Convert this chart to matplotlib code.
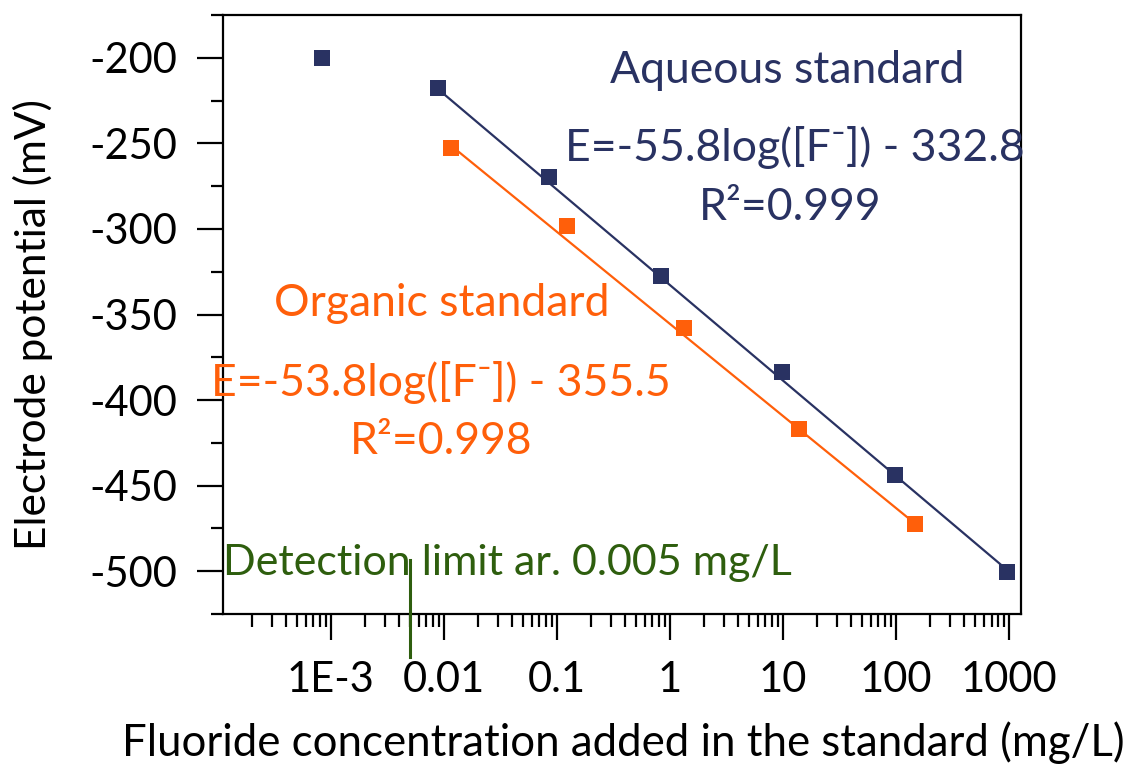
import matplotlib
matplotlib.use('Agg')
import matplotlib.pyplot as plt
import matplotlib.ticker as mticker
import matplotlib.transforms as mtransforms
import numpy as np

plt.rcParams['font.family'] = ['Lato', 'DejaVu Sans']
plt.rcParams['axes.unicode_minus'] = False

# 数据
aq_conc = [0.00083, 0.0089, 0.085, 0.83, 9.8, 98, 960]
aq_pot = [-200, -217.5, -269.5, -327.5, -383.5, -443.5, -500.5]
org_conc = [0.0115, 0.122, 1.33, 13.8, 147]
org_pot = [-253, -298.5, -358, -417, -472.5]

# 拟合方程系数（图中标注）
aq_slope, aq_intercept = -55.8, -332.8
org_slope, org_intercept = -53.8, -355.5

xtick_vals = [1e-3, 1e-2, 1e-1, 1, 10, 100, 1000]
xtick_labels = ['1E-3', '0.01', '0.1', '1', '10', '100', '1000']
detection_limit = 0.005

navy = '#293262'
orange = '#ff5f0a'
green = '#2e5e0e'

fig = plt.figure(figsize=(11.27, 7.65), dpi=100)
ax = fig.add_axes([222.7 / 1127, 1 - 614 / 765, (1021 - 222.7) / 1127, (614 - 15) / 765])

# 拟合直线（第一个水相点不参与拟合）
x_aq = np.array([aq_conc[1], aq_conc[-1]])
ax.plot(x_aq, aq_slope * np.log10(x_aq) + aq_intercept, color=navy, lw=1.6, zorder=2)
x_org = np.array([org_conc[0], org_conc[-1]])
ax.plot(x_org, org_slope * np.log10(x_org) + org_intercept, color=orange, lw=1.6, zorder=2)

ax.plot(aq_conc, aq_pot, 's', color=navy, ms=11.5, mew=0, zorder=3)
ax.plot(org_conc, org_pot, 's', color=orange, ms=11.5, mew=0, zorder=3)

ax.set_xscale('log')
ax.set_xlim(10 ** -3.957, 10 ** 3.106)
ax.set_ylim(-525, -175)

ax.xaxis.set_major_locator(mticker.FixedLocator(xtick_vals))
ax.xaxis.set_major_formatter(mticker.FixedFormatter(xtick_labels))
ax.xaxis.set_minor_locator(mticker.LogLocator(base=10, subs=np.arange(2, 10), numticks=20))
ax.xaxis.set_minor_formatter(mticker.NullFormatter())
ax.yaxis.set_major_locator(mticker.MultipleLocator(50))
ax.yaxis.set_minor_locator(mticker.MultipleLocator(25))
ax.yaxis.set_major_formatter(mticker.FuncFormatter(lambda v, p: '%d' % v))

ax.tick_params(which='both', direction='out', width=1.6, colors='black')
ax.tick_params(which='major', length=18.5, labelsize=30)
ax.tick_params(axis='x', which='major', pad=15)
ax.tick_params(axis='y', which='major', pad=14)
ax.tick_params(which='minor', length=9)
ax.tick_params(top=False, right=False)
for s in ax.spines.values():
    s.set_linewidth(1.6)

# 文字标注
ax.text(10.8, -207.5, 'Aqueous standard', color=navy, fontsize=32, ha='center', va='center')
ax.text(12.7, -252.6, 'E=-55.8log([F\u207b]) - 332.8', color=navy, fontsize=32, ha='center', va='center')
ax.text(11.5, -287.3, 'R\u00b2=0.999', color=navy, fontsize=32, ha='center', va='center')
ax.text(0.0095, -343.4, 'Organic standard', color=orange, fontsize=32, ha='center', va='center')
ax.text(0.0095, -389.6, 'E=-53.8log([F\u207b]) - 355.5', color=orange, fontsize=32, ha='center', va='center')
ax.text(0.0095, -424.3, 'R\u00b2=0.998', color=orange, fontsize=32, ha='center', va='center')
ax.text(10 ** -3.955, -502.5, 'Detection limit ar. 0.005 mg/L', color=green, fontsize=31,
        ha='left', va='baseline')

# 检出限竖线
trans = mtransforms.blended_transform_factory(ax.transData, ax.transAxes)
ax.plot([detection_limit, detection_limit], [-0.071, 0.09], color=green, lw=2.2,
        transform=trans, clip_on=False, zorder=4)

fig.text(623.5 / 1127, 1 - 743 / 765, 'Fluoride concentration added in the standard (mg/L)',
         fontsize=31.5, ha='center', va='center')
fig.text(33 / 1127, 1 - 325 / 765, 'Electrode potential (mV)', fontsize=30.5,
         rotation=90, ha='center', va='center')

fig.savefig('out.png', dpi=100)
